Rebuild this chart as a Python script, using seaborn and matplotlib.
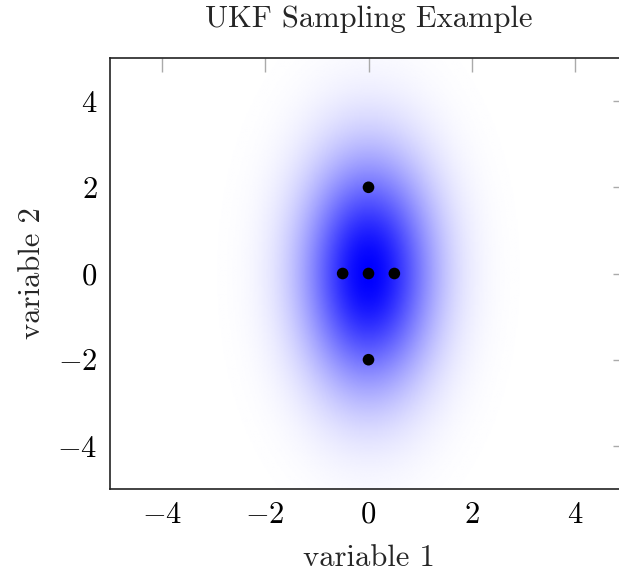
import numpy as np
import matplotlib
matplotlib.use("Agg")
import matplotlib.pyplot as plt
import seaborn as sns
from matplotlib.colors import LinearSegmentedColormap

# Sigma points
sigma_x = [0.0, 0.5, -0.5, 0.0, 0.0]
sigma_y = [0.0, 0.0, 0.0, 2.0, -2.0]

# Gaussian parameters (mean, std devs) for the shaded density
mean = [0.0, 0.0]
std = [0.88, 1.85]

xticks = [-4, -2, 0, 2, 4]
yticks = [-4, -2, 0, 2, 4]

sns.set_theme(style="white")
plt.rcParams["font.family"] = ["serif"]
plt.rcParams["font.serif"] = ["cmr10", "DejaVu Serif"]
plt.rcParams["mathtext.fontset"] = "cm"
plt.rcParams["axes.formatter.use_mathtext"] = True

fig = plt.figure(figsize=(6.19, 5.73), dpi=100)
ax = fig.add_axes([110 / 619, (573 - 489) / 573, 517 / 619, 431 / 573])

gx = np.linspace(-5, 5, 400)
gy = np.linspace(-5, 5, 400)
X, Y = np.meshgrid(gx, gy)
Z = np.exp(-0.5 * (((X - mean[0]) / std[0]) ** 2 + ((Y - mean[1]) / std[1]) ** 2))
cmap = LinearSegmentedColormap.from_list("wb", ["white", "blue"])
ax.imshow(Z, extent=(-5, 5, -5, 5), origin="lower", cmap=cmap, aspect="auto",
          vmin=0, vmax=1, interpolation="bilinear", zorder=0)

sns.scatterplot(x=sigma_x, y=sigma_y, ax=ax, color="black", s=70,
                edgecolor="none", zorder=3)

ax.set_xlim(-5, 5)
ax.set_ylim(-5, 5)
ax.set_xticks(xticks)
ax.set_yticks(yticks)
ax.tick_params(direction="in", length=10, width=1, color="#aaaaaa",
               top=True, right=True, labelsize=22, pad=9, labelcolor="black")
for sp in ax.spines.values():
    sp.set_color("#222222")
    sp.set_linewidth(1.2)

ax.set_title("UKF Sampling Example", fontsize=22, pad=22)
ax.set_xlabel("variable 1", fontsize=22, labelpad=11)
ax.set_ylabel("variable 2", fontsize=22, labelpad=8)

fig.savefig("out.png", dpi=100)
